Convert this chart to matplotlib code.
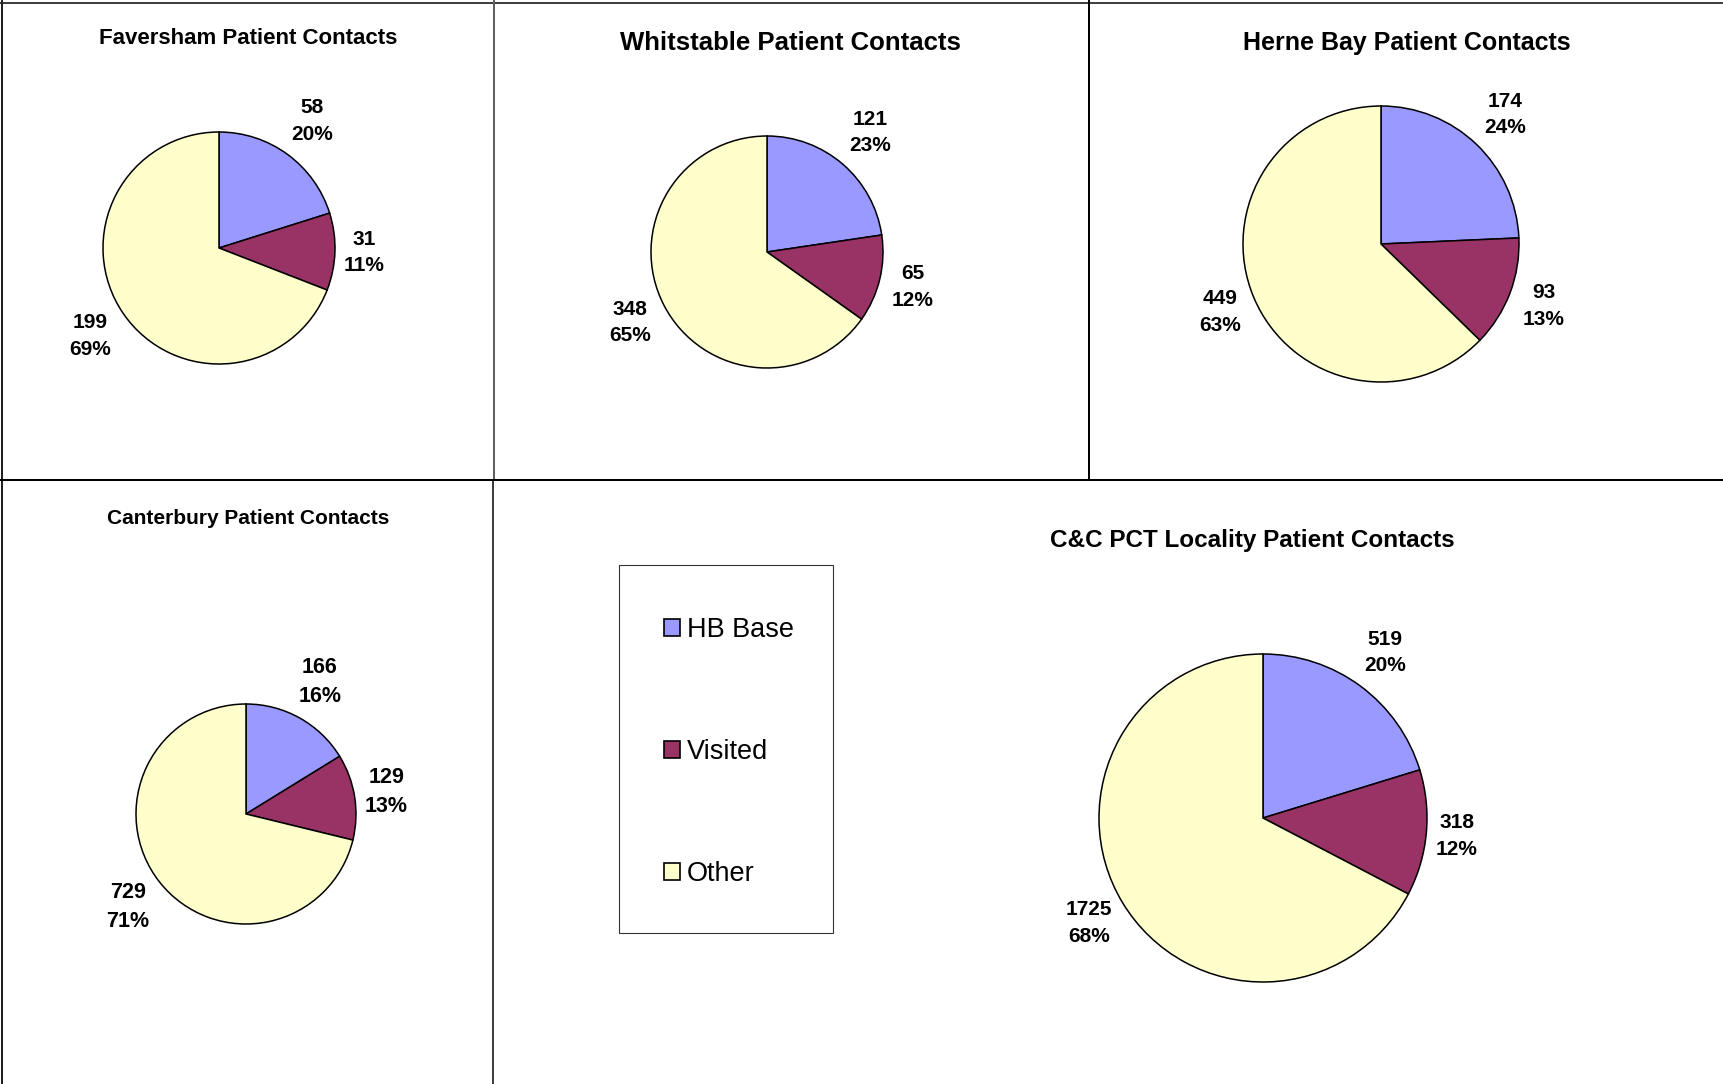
import math
import matplotlib
matplotlib.use("Agg")
import matplotlib.pyplot as plt
from matplotlib.lines import Line2D
from matplotlib.patches import Rectangle

plt.rcParams['font.family'] = ['Liberation Sans', 'DejaVu Sans']

# ---------------- data ----------------
categories = ["HB Base", "Visited", "Other"]
colors = ["#9999FF", "#993366", "#FFFFCC"]

faversham = [58, 31, 199]
faversham_pct = ["20%", "11%", "69%"]
whitstable = [121, 65, 348]
whitstable_pct = ["23%", "12%", "65%"]
herne_bay = [174, 93, 449]
herne_bay_pct = ["24%", "13%", "63%"]
canterbury = [166, 129, 729]
canterbury_pct = ["16%", "13%", "71%"]
locality = [519, 318, 1725]
locality_pct = ["20%", "12%", "68%"]

titles = ["Faversham Patient Contacts", "Whitstable Patient Contacts",
          "Herne Bay Patient Contacts", "Canterbury Patient Contacts",
          "C&C PCT Locality Patient Contacts"]

# ---------------- figure ----------------
W, H = 1723, 1084
fig = plt.figure(figsize=(W / 100, H / 100), dpi=100)
fig.patch.set_facecolor("white")


def fx(x):
    return x / W


def fy(y):
    return 1 - y / H


def draw_pie(cx, cy, r, values, pcts, title, tx, ty, tfs, lfs):
    S = r + 130
    ax = fig.add_axes([fx(cx - S), fy(cy + S), 2 * S / W, 2 * S / H])
    wedges, _ = ax.pie(values, colors=colors, startangle=90, counterclock=False,
                       radius=r, center=(0, 0),
                       wedgeprops=dict(edgecolor="black", linewidth=1.1))
    ax.set_xlim(-S, S)
    ax.set_ylim(-S, S)
    ax.set_aspect("equal")
    ax.axis("off")
    for w, v, p in zip(wedges, values, pcts):
        th = math.radians((w.theta1 + w.theta2) / 2)
        ux, uy = math.cos(th), math.sin(th)
        d = r + 8 + 20 * abs(ux) + 27 * abs(uy)
        ax.text(d * ux, d * uy, f"{v}\n{p}", ha="center", va="center",
                fontsize=lfs, fontweight="bold", linespacing=1.5, clip_on=False)
    fig.text(fx(tx), fy(ty), title, ha="center", va="center",
             fontsize=tfs, fontweight="bold")
    return wedges


draw_pie(219, 248, 116, faversham, faversham_pct, titles[0], 248, 38, 16, 15)
draw_pie(767, 252, 116, whitstable, whitstable_pct, titles[1], 790, 43, 18.5, 15)
draw_pie(1381, 244, 138, herne_bay, herne_bay_pct, titles[2], 1407, 43, 18, 15)
draw_pie(246, 814, 110, canterbury, canterbury_pct, titles[3], 248, 519, 15, 15.5)
wedges = draw_pie(1263, 818, 164, locality, locality_pct, titles[4], 1252, 540, 17.5, 15)

# ---------------- legend ----------------
fig.add_artist(Rectangle((fx(619), fy(933)), (833 - 619) / W, (933 - 565) / H,
                         transform=fig.transFigure, facecolor="white",
                         edgecolor="#333333", linewidth=0.8, zorder=0.5))
leg = fig.legend(wedges, categories, loc="upper left",
                 bbox_to_anchor=(fx(615), fy(568)), bbox_transform=fig.transFigure,
                 fontsize=19.5, frameon=False, borderpad=1.8, labelspacing=3.55,
                 handlelength=0.6, handleheight=0.6, handletextpad=0.25,
                 borderaxespad=0)
for h in leg.legend_handles:
    h.set_edgecolor("black")
    h.set_linewidth(1.2)

# ---------------- panel borders ----------------
def seg(x0, y0, x1, y1, color="black", lw=1.5):
    fig.add_artist(Line2D([fx(x0), fx(x1)], [fy(y0), fy(y1)],
                          transform=fig.transFigure, color=color,
                          linewidth=lw * 72 / 100, solid_capstyle="butt"))


seg(0, 3, W, 3, color="#404040", lw=2)
seg(2, 0, 2, H, color="#202020", lw=2)
seg(494, 0, 494, 480, color="#606060", lw=2)
seg(493, 480, 493, H, color="black", lw=1.5)
seg(1089, 0, 1089, 480, color="black", lw=2)
seg(0, 480, W, 480, color="black", lw=2)

fig.savefig("out.png", dpi=100, facecolor="white")
